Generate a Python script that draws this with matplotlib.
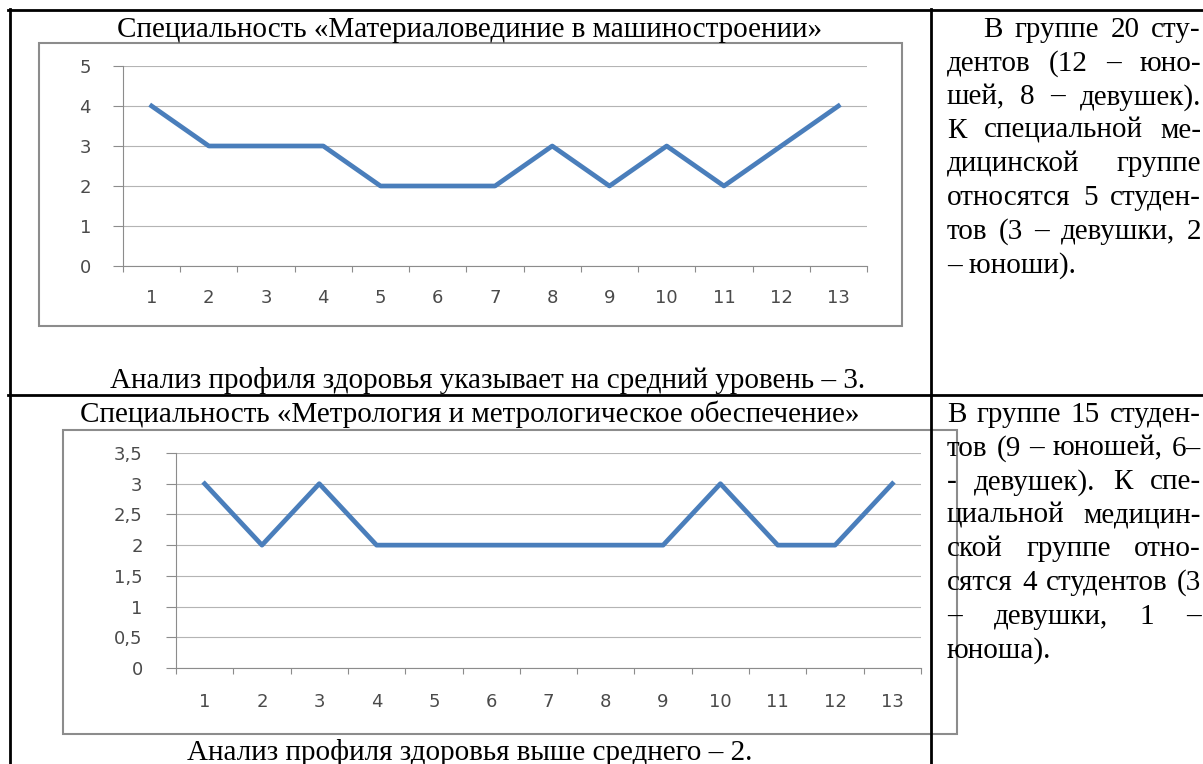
import matplotlib
matplotlib.use('Agg')
import matplotlib.pyplot as plt
from matplotlib.lines import Line2D
from matplotlib.patches import Rectangle

# --- данные ---
kategorii = list(range(1, 14))
profil_1 = [4, 3, 3, 3, 2, 2, 2, 3, 2, 3, 2, 3, 4]
profil_2 = [3, 2, 3, 2, 2, 2, 2, 2, 2, 3, 2, 2, 3]

yticks_1 = [0, 1, 2, 3, 4, 5]
ylabels_1 = ['0', '1', '2', '3', '4', '5']
yticks_2 = [0, 0.5, 1, 1.5, 2, 2.5, 3, 3.5]
ylabels_2 = ['0', '0,5', '1', '1,5', '2', '2,5', '3', '3,5']

titul_1 = 'Специальность «Материаловединие в машиностроении»'
itog_1 = 'Анализ профиля здоровья указывает на средний уровень – 3.'
titul_2 = 'Специальность «Метрология и метрологическое обеспечение»'
itog_2 = 'Анализ профиля здоровья выше среднего – 2.'

opisanie_1 = ['В группе 20 сту-', 'дентов (12 – юно-', 'шей, 8 – девушек).',
              'К специальной ме-', 'дицинской группе', 'относятся 5 студен-',
              'тов (3 – девушки, 2', '– юноши).']
opisanie_2 = ['В группе 15 студен-', 'тов (9 – юношей, 6–', '- девушек). К спе-',
              'циальной медицин-', 'ской группе отно-', 'сятся 4 студентов (3',
              '– девушки, 1 –', 'юноша).']

W, H = 1203, 764
fig = plt.figure(figsize=(W / 100, H / 100), dpi=100)
rend = fig.canvas.get_renderer()

SERIF = 'Liberation Serif'
FS = 21
GRAY = '#8c8c8c'


def fx(x):
    return x / W


def fy(y):
    return 1 - y / H


def liniya(x0, y0, x1, y1, **kw):
    fig.add_artist(Line2D([fx(x0), fx(x1)], [fy(y0), fy(y1)], transform=fig.transFigure, **kw))


def stroka(text, x0, x1, y, fs, justify=True):
    slova = text.split(' ')
    if not justify or len(slova) == 1:
        fig.text(fx(x0), fy(y), text, family=SERIF, fontsize=fs, va='baseline', ha='left')
        return
    ts = [fig.text(0, fy(y), s, family=SERIF, fontsize=fs, va='baseline', ha='left') for s in slova]
    shir = [t.get_window_extent(rend).width for t in ts]
    gap = (x1 - x0 - sum(shir)) / (len(slova) - 1)
    x = x0
    for t, w in zip(ts, shir):
        t.set_x(fx(x))
        x += w + gap


def grafik(l, t, r, b, values, yt, yl, ymax, xpad, ypad):
    ax = fig.add_axes([fx(l), fy(b), fx(r) - fx(l), fy(t) - fy(b)])
    ax.set_facecolor('none')
    ax.plot(kategorii, values, color='#4a7ebb', lw=3.4, solid_joinstyle='round', zorder=3)
    ax.set_xlim(0.5, 13.5)
    ax.set_ylim(0, ymax)
    ax.set_xticks(kategorii)
    ax.set_xticklabels([str(k) for k in kategorii])
    ax.set_xticks([k - 0.5 for k in kategorii] + [13.5], minor=True)
    ax.set_yticks(yt)
    ax.set_yticklabels(yl)
    ax.tick_params(axis='x', which='major', length=0, pad=xpad, labelsize=13, labelcolor='#4a4a4a')
    ax.tick_params(axis='x', which='minor', length=4.5, width=0.8, color=GRAY)
    ax.tick_params(axis='y', length=7.5, width=0.8, color=GRAY, pad=ypad, labelsize=13, labelcolor='#4a4a4a')
    ax.yaxis.grid(True, color='#b4b4b4', lw=0.8)
    ax.set_axisbelow(True)
    for s in ['top', 'right']:
        ax.spines[s].set_visible(False)
    for s in ['left', 'bottom']:
        ax.spines[s].set_color(GRAY)
        ax.spines[s].set_linewidth(0.8)
    return ax


# рамки диаграмм
fig.add_artist(Rectangle((fx(39), fy(326)), fx(902) - fx(39), fy(43) - fy(326),
                         transform=fig.transFigure, fill=False, ec=GRAY, lw=1.5))
fig.add_artist(Rectangle((fx(63), fy(734)), fx(957) - fx(63), fy(430) - fy(734),
                         transform=fig.transFigure, fill=False, ec=GRAY, lw=1.5))

grafik(123, 66, 867, 266, profil_1, yticks_1, ylabels_1, 5, 16.5, 15.5)
grafik(176, 453, 921, 668, profil_2, yticks_2, ylabels_2, 3.5, 18, 16.5)

# таблица
kw = dict(color='black', lw=2.0)
liniya(8, 10, 1203, 10, **kw)
liniya(9.5, 9, 9.5, 764, **kw)
liniya(8, 395, 1203, 395, **kw)
liniya(931, 9, 931, 764, **kw)

# подписи
fig.text(fx(470), fy(37), titul_1, family=SERIF, fontsize=FS, ha='center', va='baseline')
fig.text(fx(488), fy(388), itog_1, family=SERIF, fontsize=FS, ha='center', va='baseline')
fig.text(fx(470), fy(422), titul_2, family=SERIF, fontsize=FS, ha='center', va='baseline')
fig.text(fx(470), fy(760), itog_2, family=SERIF, fontsize=FS, ha='center', va='baseline')

# текст справа
for i, s in enumerate(opisanie_1):
    x0 = 983 if i == 0 else 947
    stroka(s, x0, 1201, 37 + i * 33.6, FS, justify=(i < len(opisanie_1) - 1))
for i, s in enumerate(opisanie_2):
    stroka(s, 947, 1201, 422 + i * 33.6, FS, justify=(i < len(opisanie_2) - 1))

fig.savefig('out.png', dpi=100)
